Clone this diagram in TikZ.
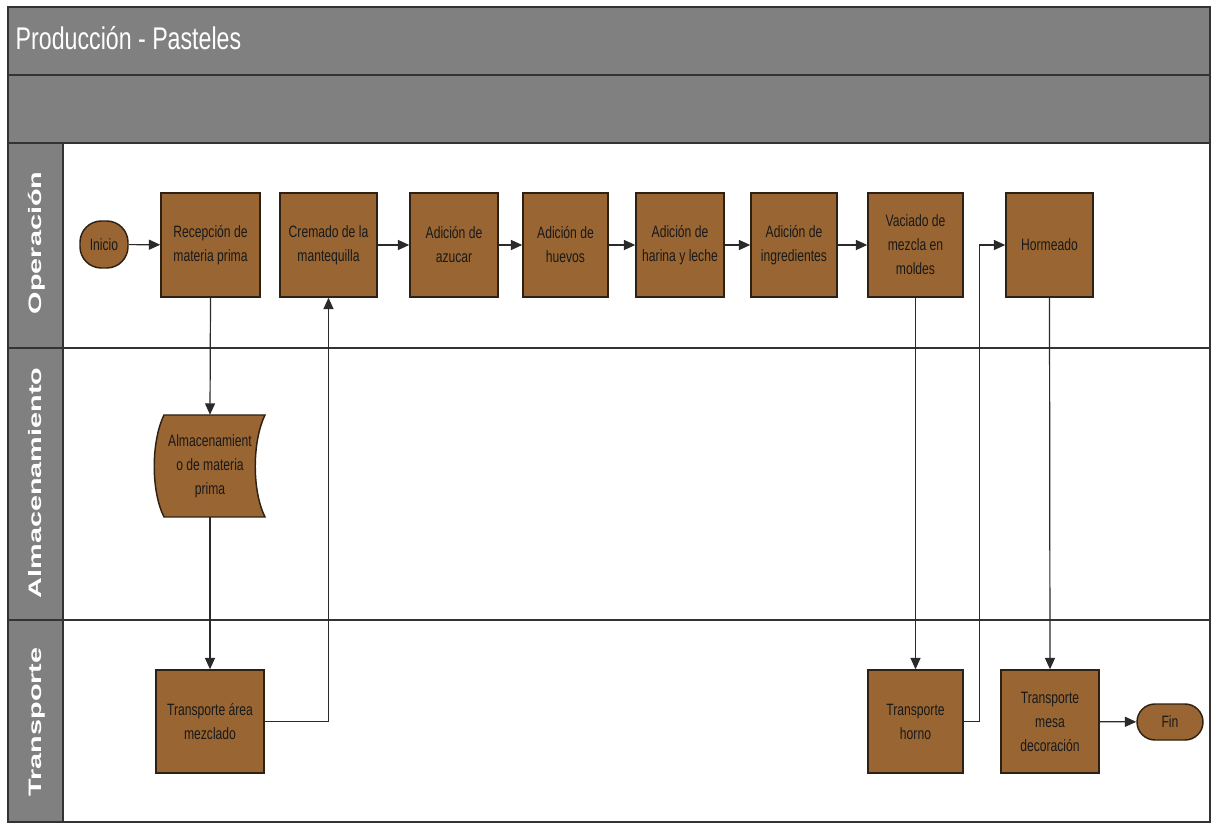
\documentclass[tikz,border=0pt]{standalone}
\usepackage{fontspec}
\setmainfont{Liberation Sans}
\newfontfamily\narrowsans{Liberation Sans}[FakeStretch=0.74]
\usetikzlibrary{arrows.meta}

\definecolor{band}{HTML}{808080}
\definecolor{taskfill}{HTML}{996633}
\definecolor{taskline}{HTML}{2E2113}
\definecolor{wire}{HTML}{2A2A2A}
\definecolor{frameline}{HTML}{333333}

\begin{document}
\begin{tikzpicture}[x=0.75pt,y=-0.75pt,
  wh/.style 2 args={minimum width=#1*0.75pt, minimum height=#2*0.75pt},
  task/.style={draw=taskline, fill=taskfill, line width=1.1pt, inner sep=1pt,
    align=center, text=black!90, font=\narrowsans\fontsize{12.3}{18}\selectfont},
  terminal/.style={task, rounded corners=#1},
  lanelabel/.style={rotate=90, anchor=base, text=white,
    font=\bfseries\fontsize{13.5}{16}\selectfont},
  flow/.style={draw=wire, line width=0.9pt,
    -{Triangle[length=8.5pt, width=7.5pt]}},
  bandbox/.style={fill=band, draw=frameline, line width=1.2pt},
  laneline/.style={draw=frameline, line width=1.1pt}]

\useasboundingbox (0,0) rectangle (1211,823);

% pool header bands and lane header column
\path[bandbox] (8,7) rectangle (1210,75);
\path[bandbox] (8,75) rectangle (1210,143);
\path[fill=white, draw=frameline, line width=1.2pt] (63,143) rectangle (1210,822);
\path[bandbox] (8,143) rectangle (63,822);
\draw[laneline] (8,348) -- (1210,348);
\draw[laneline] (8,620) -- (1210,620);

\node[anchor=base west, text=white, font=\narrowsans\fontsize{23.5}{28}\selectfont]
  (title) at (11,50) {Producción - Pasteles};

% lane names
\node[lanelabel] (lop) at (41,243) {\scalebox{1.6}[1]{Operación}};
\node[lanelabel] (lalm) at (41,483) {\scalebox{1.6}[1]{Almacenamiento}};
\node[lanelabel] (ltr) at (41,722) {\scalebox{1.6}[1]{Transporte}};

% operation lane
\node[terminal=16pt, wh={48}{47}] (ini) at (104,244.5) {Inicio};
\node[task, wh={99}{104}] (rec) at (210.5,245) {Recepción de\\materia prima};
\node[task, wh={97}{104}] (cre) at (328.5,245) {Cremado de la\\mantequilla};
\node[task, wh={88}{104}] (azu) at (454,245) {Adición de\\azucar};
\node[task, wh={85}{104}] (hue) at (565.5,245) {Adición de\\huevos};
\node[task, wh={88}{104}] (har) at (680,245) {Adición de\\harina y leche};
\node[task, wh={86}{104}] (ing) at (794,245) {Adición de\\ingredientes};
\node[task, wh={95}{104}] (vac) at (915.5,245) {Vaciado de\\mezcla en\\moldes};
\node[task, wh={87}{104}] (hor) at (1049.5,245) {Hormeado};

% storage lane: stored-data outline around a plain text node
\path[fill=taskfill, draw=taskline, line width=1.1pt]
  (164,415) -- (265,415)
  .. controls (252,442) and (252,491) .. (265,517)
  -- (164,517)
  .. controls (151,491) and (151,442) .. (164,415) -- cycle;
\node[align=center, text=black!90, font=\narrowsans\fontsize{12.3}{18}\selectfont,
  wh={101}{102}, inner sep=0pt] (alm) at (210,466)
  {Almacenamient\\o de materia\\prima};

% transport lane
\node[task, wh={108}{103}] (tar) at (210,721.5) {Transporte área\\mezclado};
\node[task, wh={95}{103}] (tho) at (915.5,721.5) {Transporte\\horno};
\node[task, wh={98}{103}] (tme) at (1050,721.5) {Transporte\\mesa\\decoración};
\node[terminal=13.5pt, wh={66}{36}] (fin) at (1170,722) {Fin};

% connectors
\draw[flow] (ini) -- (rec);
\draw[flow] (rec.south) -- (alm.north);
\draw[flow] (alm.south) -- (tar.north);
\draw[flow] (tar.east) -| (cre.south);
\draw[flow] (cre) -- (azu);
\draw[flow] (azu) -- (hue);
\draw[flow] (hue) -- (har);
\draw[flow] (har) -- (ing);
\draw[flow] (ing) -- (vac);
\draw[flow] (vac.south) -- (tho.north);
\draw[flow] (tho.east) -- ++(16,0) |- (hor.west);
\draw[flow] (hor.south) -- (tme.north);
\draw[flow] (tme) -- (fin);
\end{tikzpicture}
\end{document}
